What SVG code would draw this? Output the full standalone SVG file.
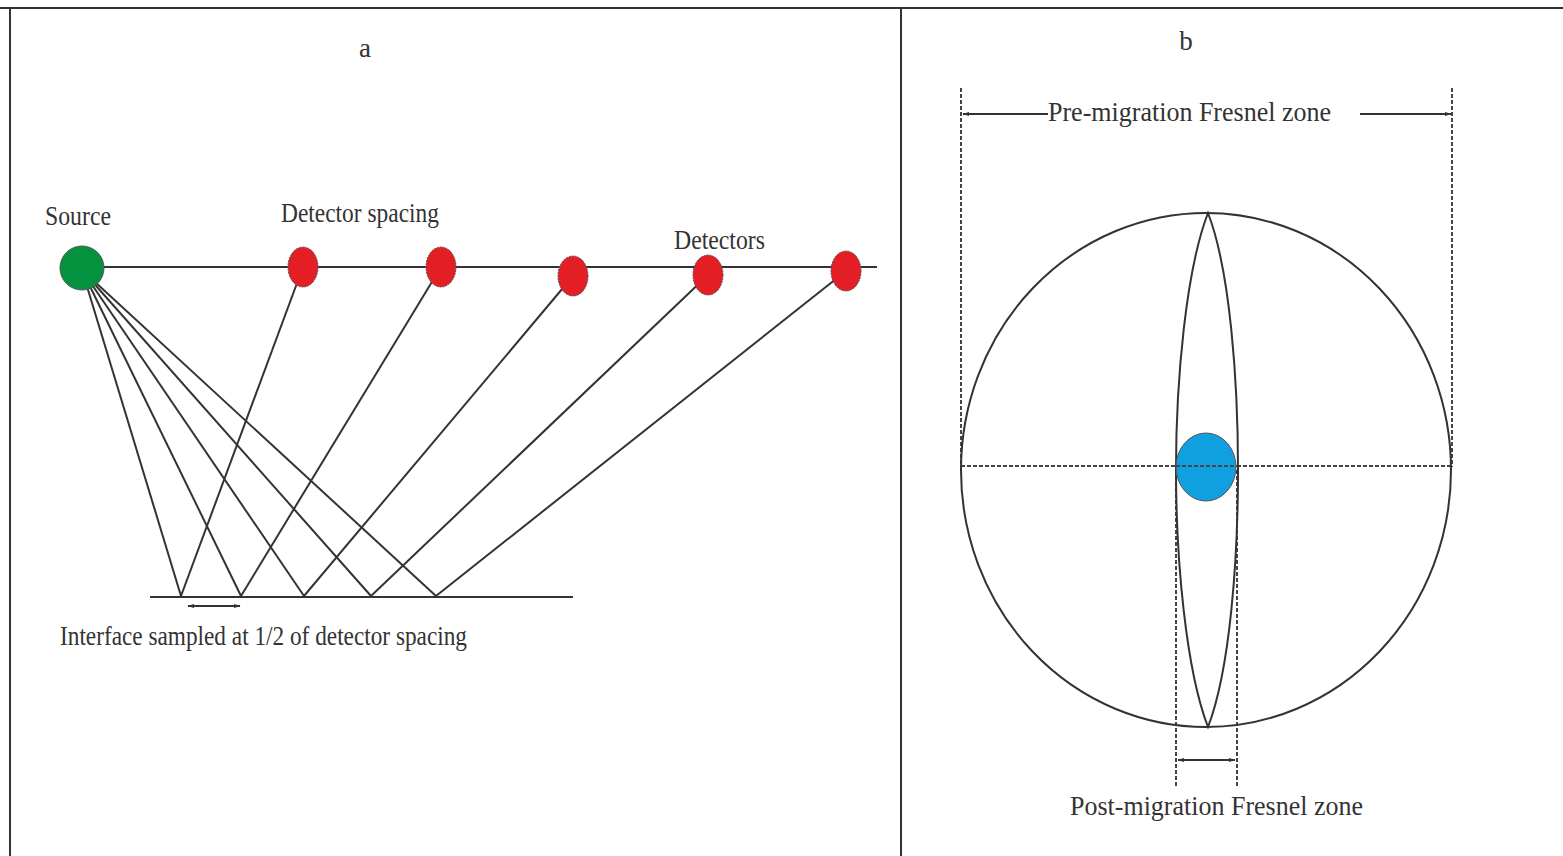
<svg xmlns="http://www.w3.org/2000/svg" width="1563" height="856" viewBox="0 0 1563 856">
<style>
.ln{stroke:#333;stroke-width:2;fill:none}
.dash{stroke:#444;stroke-width:2;stroke-dasharray:4 2;fill:none}
.t{font-family:"Liberation Serif","Times New Roman",serif;font-size:27px;fill:#333}
.det{fill:#e31e24;stroke:#555;stroke-width:1;stroke-dasharray:2 1}
</style>
<defs>
<marker id="ah" viewBox="0 0 10 10" refX="9" refY="5" markerWidth="7" markerHeight="7" orient="auto-start-reverse" markerUnits="userSpaceOnUse">
<path d="M0,2 L10,5 L0,8 Z" fill="#333"/>
</marker>
</defs>
<rect width="1563" height="856" fill="#fff"/>
<g id="frame">
<line x1="0" y1="8" x2="1563" y2="8" class="ln"/>
<line x1="10" y1="8" x2="10" y2="856" class="ln"/>
<line x1="901" y1="8" x2="901" y2="856" class="ln"/>
</g>
<g id="connectors">
<line x1="104" y1="267" x2="877" y2="267" class="ln"/>
<line x1="150" y1="597" x2="573" y2="597" class="ln"/>
<line x1="82" y1="270" x2="181" y2="596" class="ln"/>
<line x1="82" y1="270" x2="241" y2="596" class="ln"/>
<line x1="82" y1="270" x2="304" y2="596" class="ln"/>
<line x1="82" y1="270" x2="371" y2="596" class="ln"/>
<line x1="82" y1="270" x2="436" y2="596" class="ln"/>
<line x1="303" y1="267" x2="181" y2="596" class="ln"/>
<line x1="441" y1="267" x2="241" y2="596" class="ln"/>
<line x1="573" y1="276" x2="304" y2="596" class="ln"/>
<line x1="708" y1="275" x2="371" y2="596" class="ln"/>
<line x1="846" y1="271" x2="436" y2="596" class="ln"/>
<line x1="188" y1="606" x2="240" y2="606" class="ln" stroke-width="1.6" marker-start="url(#ah)" marker-end="url(#ah)"/>
<line x1="961" y1="88" x2="961" y2="467" class="dash"/>
<line x1="1452" y1="88" x2="1452" y2="467" class="dash"/>
<line x1="961" y1="466" x2="1451" y2="466" class="dash"/>
<line x1="1176" y1="470" x2="1176" y2="788" class="dash"/>
<line x1="1237" y1="470" x2="1237" y2="788" class="dash"/>
<line x1="1048" y1="114" x2="963" y2="114" class="ln" stroke-width="1.6" marker-end="url(#ah)"/>
<line x1="1360" y1="114" x2="1451" y2="114" class="ln" stroke-width="1.6" marker-end="url(#ah)"/>
<line x1="1178" y1="760" x2="1235" y2="760" class="ln" stroke-width="1.6" marker-start="url(#ah)" marker-end="url(#ah)"/>
</g>
<g id="source">
<circle cx="82" cy="268" r="22" fill="#05923f" stroke="#555" stroke-width="1"/>
<text x="45" y="225" class="t" textLength="66" lengthAdjust="spacingAndGlyphs">Source</text>
</g>
<g id="detectors">
<ellipse cx="303" cy="267" rx="15" ry="20" class="det"/>
<ellipse cx="441" cy="267" rx="15" ry="20" class="det"/>
<ellipse cx="573" cy="276" rx="15" ry="20" class="det"/>
<ellipse cx="708" cy="275" rx="15" ry="20" class="det"/>
<ellipse cx="846" cy="271" rx="15" ry="20" class="det"/>
</g>
<g id="labels-a">
<text x="365" y="57" class="t" text-anchor="middle">a</text>
<text x="281" y="222" class="t" textLength="158" lengthAdjust="spacingAndGlyphs">Detector spacing</text>
<text x="674" y="249" class="t" textLength="91" lengthAdjust="spacingAndGlyphs">Detectors</text>
<text x="60" y="645" class="t" textLength="407" lengthAdjust="spacingAndGlyphs">Interface sampled at 1/2 of detector spacing</text>
</g>
<g id="fresnel">
<ellipse cx="1206" cy="470" rx="245" ry="257" class="ln"/>
<path d="M1208,213 C1186,270 1176,380 1176,470 C1176,560 1186,670 1208,727 C1230,670 1238,560 1238,470 C1238,380 1230,270 1208,213 Z" class="ln"/>
<ellipse cx="1206" cy="467" rx="30" ry="34" fill="#109fdf" stroke="#555" stroke-width="1"/>
<line x1="1176" y1="466" x2="1237" y2="466" class="dash"/>
</g>
<g id="labels-b">
<text x="1186" y="50" class="t" text-anchor="middle">b</text>
<text x="1048" y="121" class="t" textLength="283" lengthAdjust="spacingAndGlyphs">Pre-migration Fresnel zone</text>
<text x="1070" y="815" class="t" textLength="293" lengthAdjust="spacingAndGlyphs">Post-migration Fresnel zone</text>
</g>
</svg>
